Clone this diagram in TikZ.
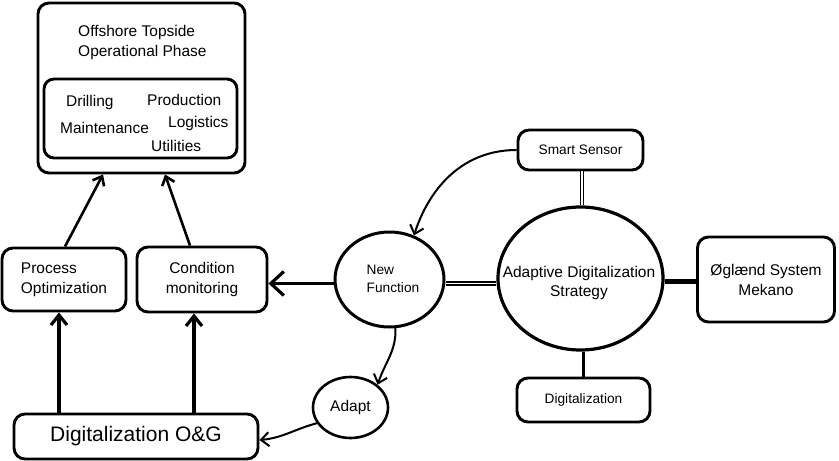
\documentclass[tikz,border=0pt]{standalone}
\usepackage{fontspec}
\setmainfont{Liberation Sans}
\usetikzlibrary{arrows.meta,shapes.geometric}
\begin{document}
\begin{tikzpicture}[x=1pt,y=-1pt,
  box/.style={draw,line width=2.9pt,rounded corners=11pt,inner sep=0pt,align=center,
    font=\fontsize{15.5}{20}\selectfont},
  oval/.style={draw,ellipse,line width=3.2pt,inner sep=0pt},
  ovaltext/.style={inner sep=0pt,align=center,font=\fontsize{15.5}{19}\selectfont},
  lbl/.style={anchor=base west,inner sep=0pt,font=\fontsize{15.5}{19}\selectfont},
  bigtip/.style={-{Straight Barb[length=10pt,width=16pt]},line width=3.2pt},
  midtip/.style={-{Straight Barb[length=8pt,width=13pt]},line width=2.6pt},
  thintip/.style={-{Straight Barb[length=8pt,width=14pt]},line width=2pt},
  dbl/.style={double,double distance=1.2pt,line width=1.6pt}]
\useasboundingbox (0,0) rectangle (839,461);

% operational phase block
\node[box,minimum width=207pt,minimum height=170pt] (outer) at (141.5,88) {};
\node[lbl] (title) at (78,36) {Offshore Topside};
\node[lbl] (title2) at (78,56) {Operational Phase};
\node[box,rounded corners=10pt,minimum width=193pt,minimum height=79pt] (inner) at (140.5,118.5) {};
\node[lbl] (drill) at (66,106) {Drilling};
\node[lbl] (prod) at (147,105) {Production};
\node[lbl] (maint) at (60,133) {Maintenance};
\node[lbl] (logi) at (168,127) {Logistics};
\node[lbl] (util) at (151,151) {Utilities};

% application boxes
\node[box,align=left,minimum width=124pt,minimum height=63pt] (po) at (64,279.5) {Process\\Optimization};
\node[box,minimum width=130pt,minimum height=65pt] (cm) at (202,279.5) {Condition\\monitoring};
\node[box,minimum width=244pt,minimum height=45pt,font=\fontsize{21}{25}\selectfont] (dog) at (136,436.5) {Digitalization O\&G};

% strategy side
\node[box,minimum width=125pt,minimum height=40pt,font=\fontsize{13.7}{17}\selectfont] (ss) at (580.5,150) {Smart Sensor};
\node[oval,minimum width=165pt,minimum height=143pt] (ads) at (580.5,278.5) {};
\node[ovaltext] (adstext) at (579,283) {Adaptive Digitalization\\Strategy};
\node[oval,minimum width=109pt,minimum height=95pt,line width=3pt] (nf) at (389.5,279.5) {};
\node[ovaltext,align=left,font=\fontsize{13.7}{18}\selectfont] (nftext) at (393,279) {New\\Function};
\node[oval,minimum width=75pt,minimum height=61pt,line width=2.6pt] (adapt) at (350.5,407.5) {};
\node[ovaltext] (adapttext) at (350.5,407.5) {Adapt};
\node[box,minimum width=133pt,minimum height=44pt,font=\fontsize{13.7}{17}\selectfont] (dig) at (583.5,400) {Digitalization};
\node[box,minimum width=137pt,minimum height=85pt] (og) at (766,279.5) {Øglænd System\\Mekano};

% connectors
\draw[midtip] ([xshift=1pt]po.north) -- ([xshift=-38.5pt]outer.south);
\draw[midtip] ([xshift=-12pt]cm.north) -- ([xshift=23.5pt]outer.south);
\draw[bigtip] ([xshift=-77pt]dog.north) -- ([xshift=-77pt]dog.north |- po.south);
\draw[bigtip] ([xshift=58pt]dog.north) -- ([xshift=58pt]dog.north |- cm.south);
\draw[-{Straight Barb[length=13pt,width=24pt]},line width=3.2pt] ([yshift=-4pt]nf.west) -- ([yshift=-4pt]nf.west -| cm.east);
\draw[dbl] ([yshift=-4pt]nf.east) -- ([yshift=-4pt]nf.east -| ads.west);
\draw[line width=4.5pt] ([yshift=-3pt]ads.east) -- ([yshift=-3pt]ads.east -| og.west);
\draw[dbl] ([xshift=1.5pt]ss.south) -- ([xshift=1.5pt]ss.south |- ads.north);
\draw[line width=2.4pt] ([xshift=3pt]ads.south) -- ([xshift=3pt]ads.south |- dig.north);
\draw[thintip] (ss.west) to[out=180,in=72] (nf.61);
\draw[thintip] (nf.-83) to[out=-88,in=72] (adapt.40);
\draw[thintip] (adapt.205) to[out=195,in=5] ([yshift=-3.5pt]dog.east);
\end{tikzpicture}
\end{document}
